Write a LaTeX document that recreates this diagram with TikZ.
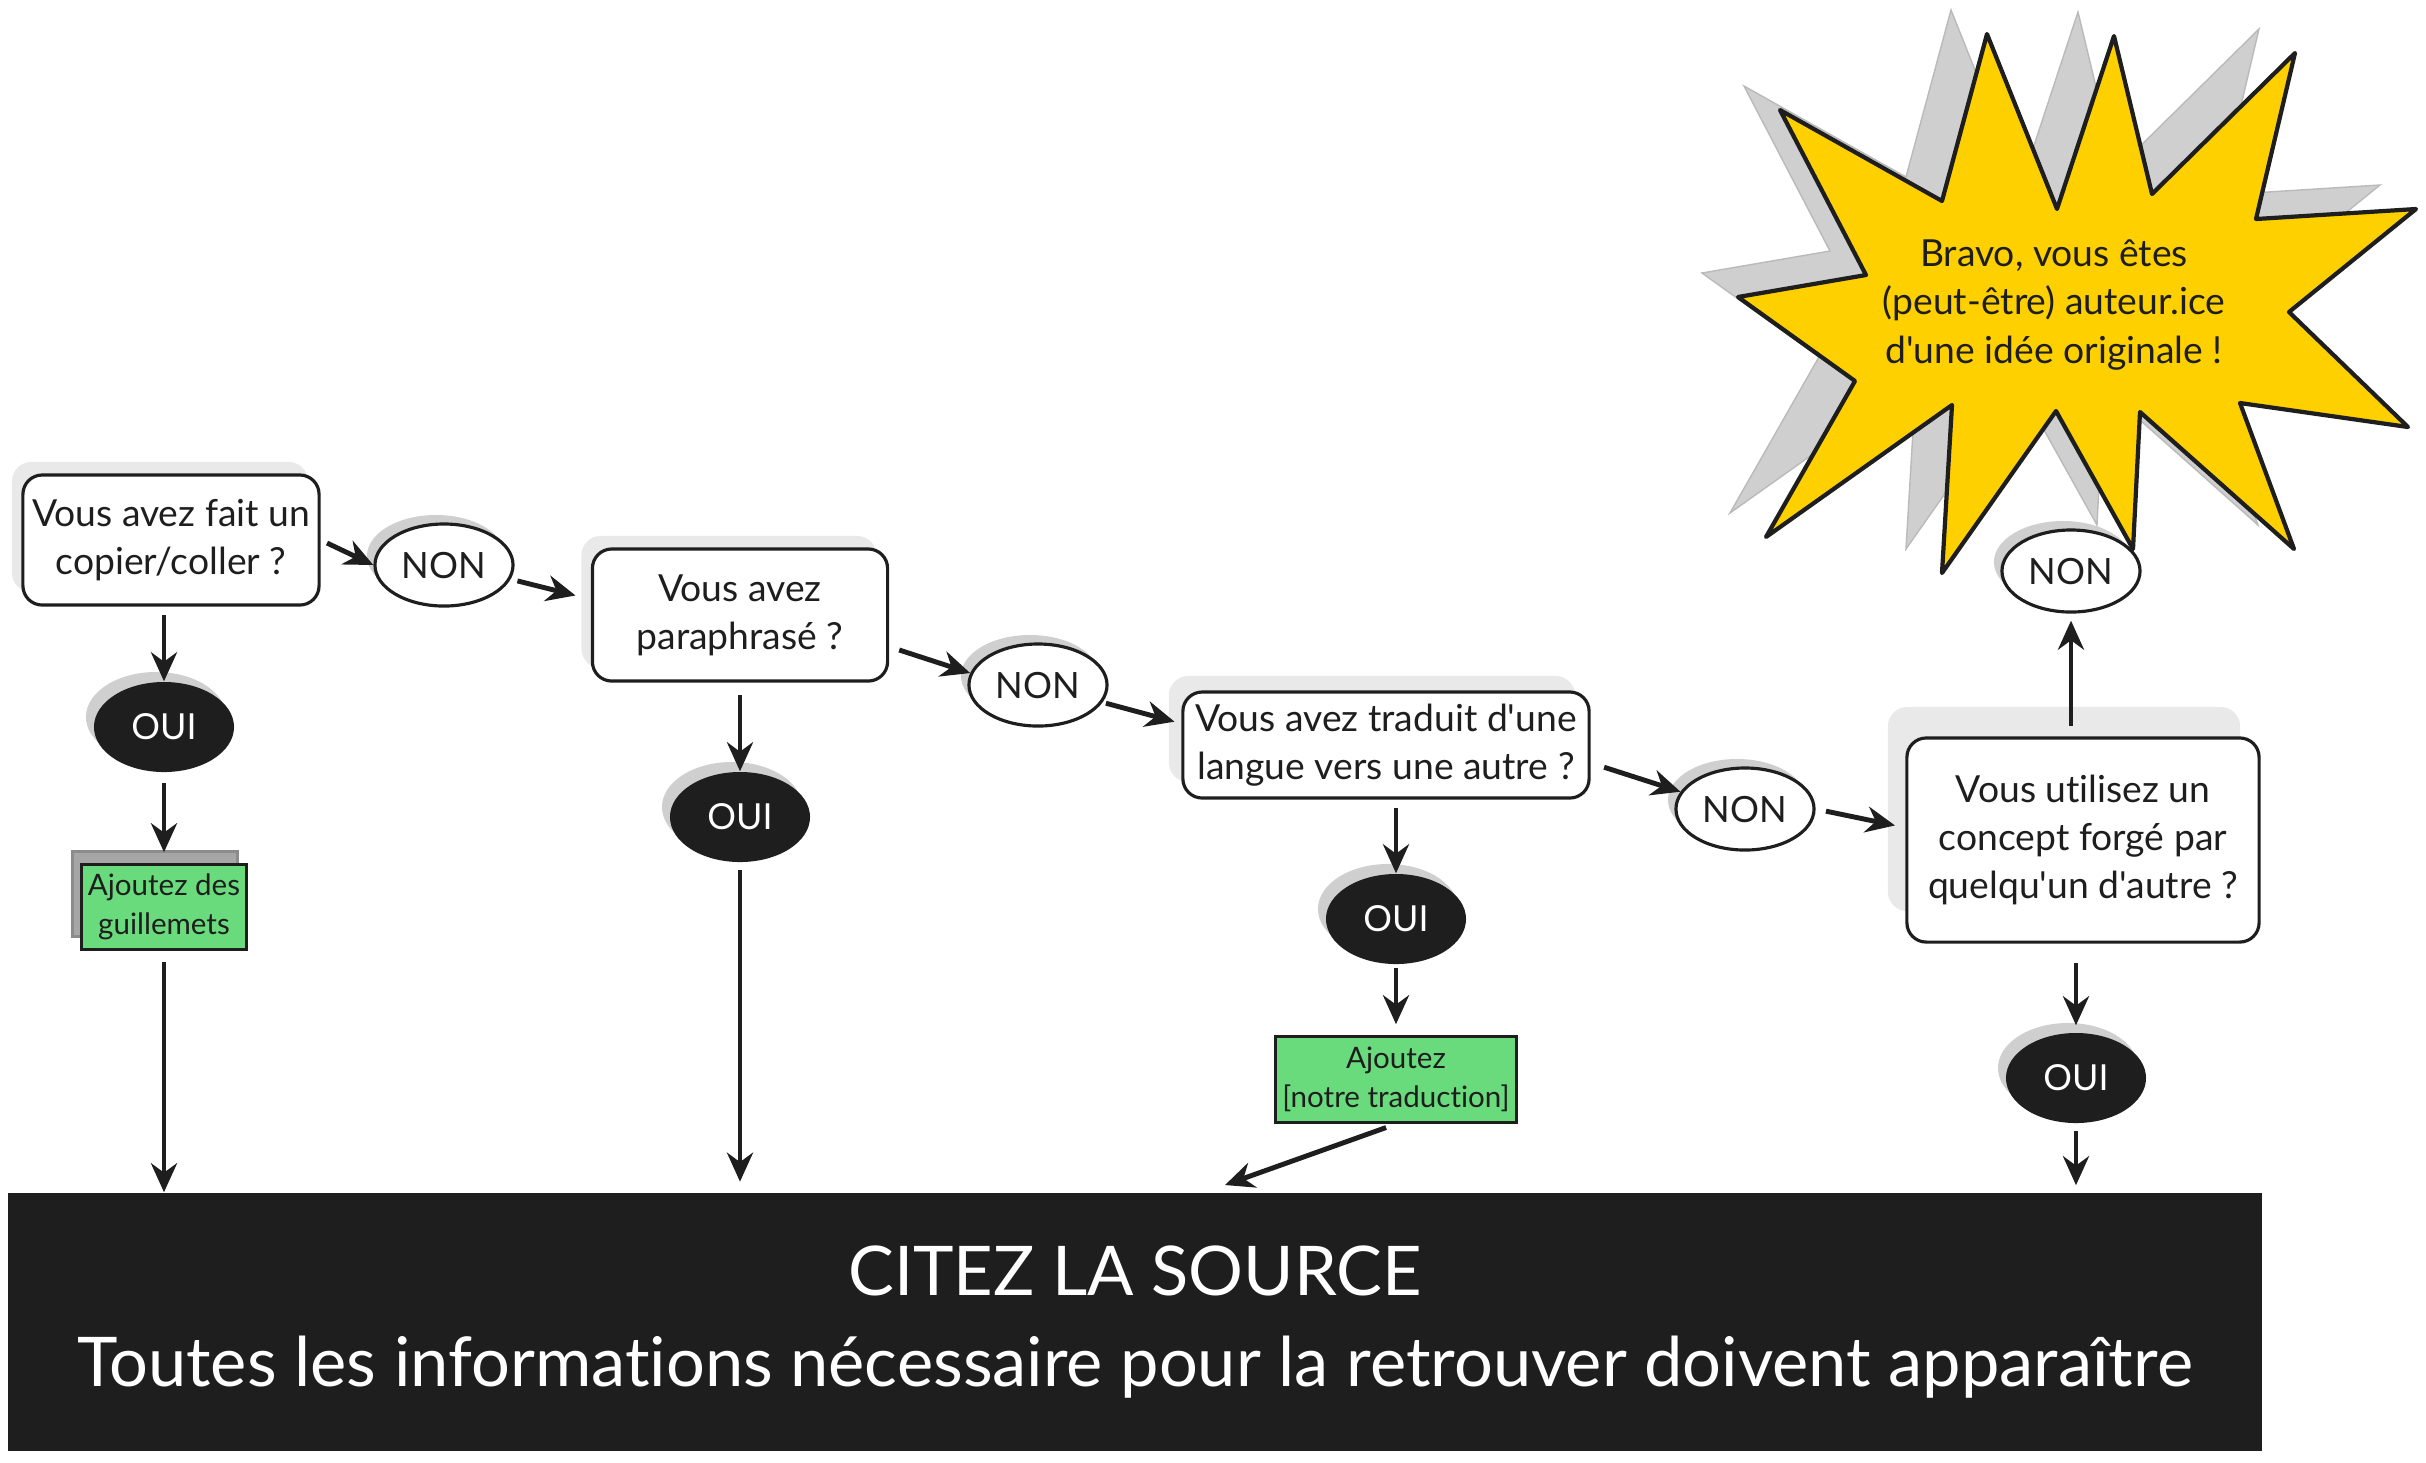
\documentclass[tikz,border=0pt]{standalone}
\usepackage{fontspec}
\setmainfont{Lato}[Ligatures = {TeXOff, CommonOff}]
\usepackage{tikz}
\usetikzlibrary{arrows.meta, positioning, shapes.geometric, shadows}
\definecolor{InkBlack}{HTML}{1E1E1E}
\definecolor{BurstYellow}{HTML}{FFD000}
\definecolor{NoteGreen}{HTML}{69DB7C}
\definecolor{ShadeLight}{HTML}{E9E9E9}
\definecolor{ShadeGrey}{HTML}{CFCFCF}
\definecolor{ShadeDark}{HTML}{A6A6A6}

\begin{document}
\begin{tikzpicture}[
        x = 0.01cm, y = -0.01cm,
        question/.style = {
            rectangle,
            rounded corners = 5.5pt,
            draw = InkBlack,
            fill = white,
            line width = 0.9pt,
            align = center,
            text = InkBlack,
            inner sep = 0pt,
            font = \fontsize{10.6}{13.7}\selectfont
        },
        nonbubble/.style = {
            ellipse,
            draw = InkBlack,
            fill = white,
            line width = 0.9pt,
            inner sep = 0pt,
            minimum width = 1.38cm,
            minimum height = 0.82cm,
            text = InkBlack,
            font = \fontsize{10.3}{12}\selectfont,
            drop shadow = {shadow xshift = -0.8mm, shadow yshift = 0.9mm, fill = ShadeGrey, opacity = 1}
        },
        ouibubble/.style = {
            ellipse,
            fill = InkBlack,
            inner sep = 0pt,
            minimum width = 1.40cm,
            minimum height = 0.90cm,
            text = white,
            font = \fontsize{10.2}{12}\selectfont,
            drop shadow = {shadow xshift = -0.8mm, shadow yshift = 1.0mm, fill = ShadeGrey, opacity = 1}
        },
        note/.style = {
            rectangle,
            draw = InkBlack,
            fill = NoteGreen,
            line width = 0.9pt,
            align = center,
            inner sep = 0pt,
            text = InkBlack,
            font = \fontsize{8.4}{11}\selectfont
        },
        burst/.style = {
            draw = InkBlack,
            fill = BurstYellow,
            line width = 1.2pt,
            line join = round,
            drop shadow = {shadow xshift = -3.6mm, shadow yshift = 2.4mm, fill = ShadeGrey, draw = black!27, opacity = 1}
        },
        arr/.style = {
            -{Stealth[length = 2.9mm, width = 2.6mm]},
            line width = 1.4pt,
            InkBlack
        }
    ]
        \useasboundingbox (0,0) rectangle (2426,1462);

        % questions
        \node[question, minimum width = 2.96cm, minimum height = 1.30cm,
              drop shadow = {shadow xshift = -1.1mm, shadow yshift = 1.3mm, fill = ShadeLight, opacity = 1}]
            (q1) at (171,540) {Vous avez fait un\\copier/coller~?};
        \node[question, minimum width = 2.95cm, minimum height = 1.32cm,
              drop shadow = {shadow xshift = -1.1mm, shadow yshift = 1.3mm, fill = ShadeLight, opacity = 1}]
            (q2) at (740,615) {Vous avez\\paraphrasé~?};
        \node[question, minimum width = 4.06cm, minimum height = 1.06cm,
              drop shadow = {shadow xshift = -1.4mm, shadow yshift = 1.6mm, fill = ShadeLight, opacity = 1}]
            (q3) at (1386,745) {Vous avez traduit d'une\\langue vers une autre~?};
        \node[question, minimum width = 3.52cm, minimum height = 2.04cm,
              drop shadow = {shadow xshift = -1.9mm, shadow yshift = 3.1mm, fill = ShadeLight, opacity = 1}]
            (q4) at (2083,840) {Vous utilisez un\\concept forgé par\\quelqu'un d'autre~?};

        % the burst
        \draw[burst] (1780,110) -- (1942,201) -- (1987,34) -- (2057,209) -- (2114,36)
            -- (2152,194) -- (2295,53) -- (2256,219) -- (2416,209) -- (2289,312)
            -- (2408,427) -- (2240,403) -- (2294,549) -- (2140,412) -- (2133,549)
            -- (2056,411) -- (1942,573) -- (1952,405) -- (1766,537) -- (1855,381)
            -- (1738,297) -- (1866,275) -- cycle;
        \node[align = center, text = InkBlack, font = \fontsize{10.6}{13.7}\selectfont]
            (bravo) at (2054,305) {Bravo, vous êtes\\(peut-être) auteur.ice\\d'une idée originale !};

        % answers
        \node[nonbubble] (non1) at (444,565) {NON};
        \node[nonbubble] (non2) at (1038,685) {NON};
        \node[nonbubble] (non3) at (1745,809) {NON};
        \node[nonbubble] (non4) at (2071,571) {NON};

        \node[ouibubble] (oui1) at (164,727) {OUI};
        \node[ouibubble] (oui2) at (740,817) {OUI};
        \node[ouibubble] (oui3) at (1396,919) {OUI};
        \node[ouibubble] (oui4) at (2076,1078) {OUI};

        % green notes
        \node[note, minimum width = 1.65cm, minimum height = 0.85cm, below = 0.90cm of oui1,
              drop shadow = {shadow xshift = -0.9mm, shadow yshift = 1.3mm, fill = ShadeDark, draw = black!45, opacity = 1}]
            (g1) {Ajoutez des\\guillemets};
        \node[note, minimum width = 2.41cm, minimum height = 0.86cm, below = 0.70cm of oui3]
            (g2) {Ajoutez\\{[notre traduction]}};

        % the source
        \node[rectangle, fill = InkBlack, text = white, align = center,
              minimum width = 22.53cm, minimum height = 2.58cm, inner sep = 0pt,
              font = \fontsize{19.5}{25.6}\selectfont]
            (src) at (1135,1322) {CITEZ LA SOURCE\\Toutes les informations nécessaire pour la retrouver doivent apparaître};
        \coordinate (srcin) at (1225,1185);

        % connectors
        \draw[arr, shorten <= 2pt] (q1.east) -- (non1.west);
        \draw[arr, shorten <= 2pt, shorten >= 4.5pt] (non1.-12) -- (q2.174);
        \draw[arr, shorten <= 3pt] (q2.-12) -- (non2.170);
        \draw[arr, shorten <= 1pt, shorten >= 2pt] (non2.-15) -- (q3.174);
        \draw[arr, shorten <= 4pt] (q3.-5) -- (non3.165);
        \draw[arr, shorten <= 3pt, shorten >= 3pt] (non3.east) -- (q4.176);
        \draw[arr, shorten <= 3pt, shorten >= 2pt] (q4.north -| non4) -- (non4.south);
        \draw[arr, shorten <= 5.5pt, shorten >= 2pt] (oui4.north |- q4.south) -- (oui4.north);
        \draw[arr, shorten <= 2pt, shorten >= 2pt] (oui4.south) -- (oui4.south |- src.north);

        \draw[arr, shorten <= 2.5pt] (oui1.north |- q1.south) -- (oui1.north);
        \draw[arr, shorten <= 3pt, shorten >= 3pt] (oui1.south) -- (g1.north);
        \draw[arr, shorten <= 3pt] (g1.south) -- (g1.south |- src.north);
        \draw[arr, shorten <= 3.5pt] (q2.south) -- (oui2.north);
        \draw[arr, shorten <= 2pt, shorten >= 3pt] (oui2.south) -- (oui2.south |- src.north);
        \draw[arr, shorten <= 2.5pt] (oui3.north |- q3.south) -- (oui3.north);
        \draw[arr, shorten <= 1pt, shorten >= 3pt] (oui3.south) -- (g2.north);
        \draw[arr, shorten <= 3pt] (g2.south) -- (srcin);
    \end{tikzpicture}
\end{document}
